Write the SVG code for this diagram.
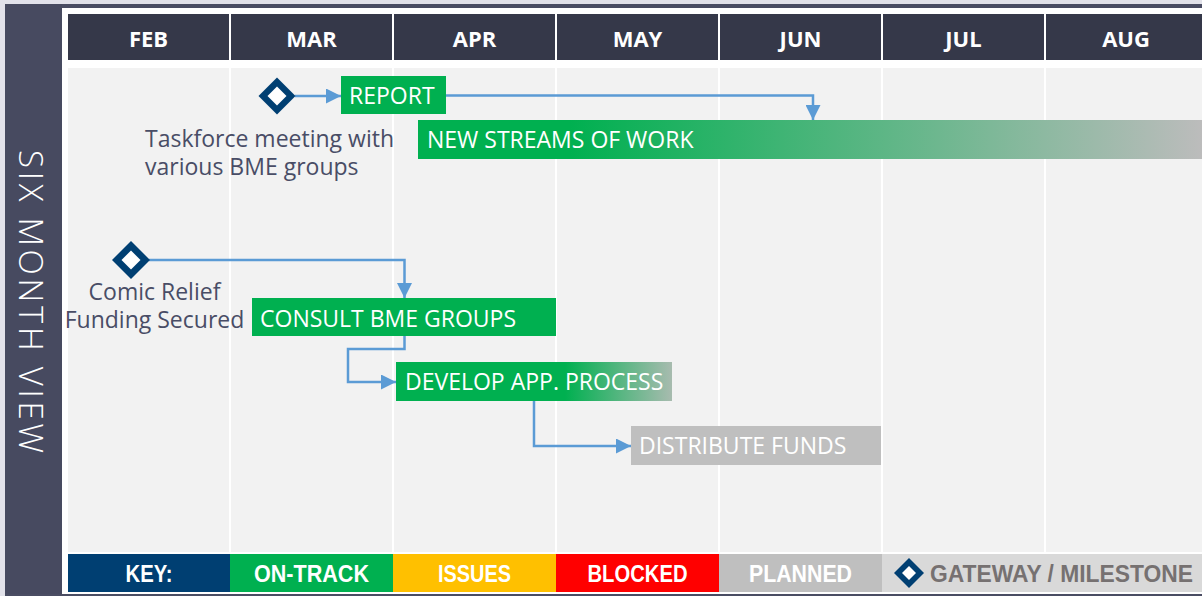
<svg xmlns="http://www.w3.org/2000/svg" width="1202" height="596" viewBox="0 0 1202 596">
<style>
.hdr{fill:#353849}
.hdrt{font-family:"Open Sans","Liberation Sans",sans-serif;font-weight:700;font-size:22px;fill:#ffffff;text-anchor:middle}
.col{fill:#f2f2f2}
.bar{font-family:"Open Sans","Liberation Sans",sans-serif;font-size:23px;fill:#ffffff}
.note{font-family:"Open Sans","Liberation Sans",sans-serif;font-size:23px;fill:#494d66}
.key{font-family:"Liberation Sans Narrow","Liberation Sans",sans-serif;font-weight:700;font-size:24px;fill:#ffffff;text-anchor:middle}
.conn{fill:none;stroke:#5b9bd5;stroke-width:2.5}
.ms-o{fill:#003f72}
.ms-i{fill:#ffffff}
</style>
<defs>
<marker id="arr" viewBox="0 0 10 10" refX="10" refY="5" markerWidth="6" markerHeight="6" markerUnits="strokeWidth" orient="auto">
<path d="M0,0 L10,5 L0,10 Z" fill="#5b9bd5"/>
</marker>
<linearGradient id="gNew" gradientUnits="userSpaceOnUse" x1="570" y1="0" x2="1202" y2="0">
<stop offset="0" stop-color="#00b050"/>
<stop offset="1" stop-color="#bcbcbc"/>
</linearGradient>
<linearGradient id="gDev" gradientUnits="userSpaceOnUse" x1="565" y1="0" x2="680" y2="0">
<stop offset="0" stop-color="#00b050"/>
<stop offset="1" stop-color="#b4bcb6"/>
</linearGradient>
</defs>

<!-- frame -->
<rect x="0" y="0" width="1202" height="596" fill="#ffffff"/>
<rect x="0" y="0" width="1202" height="4" fill="#e2e2ea"/>
<rect x="0" y="0" width="5" height="596" fill="#e2e2ea"/>
<rect x="5" y="4" width="1197" height="4" fill="#4a4d63"/>
<rect x="5" y="4" width="57" height="592" fill="#474a60"/>
<rect x="5" y="594" width="1197" height="2" fill="#4a4d63"/>
<text transform="translate(19,150) rotate(90)" font-family="'Open Sans','Liberation Sans',sans-serif" font-weight="300" font-size="33" letter-spacing="3.7" fill="#ffffff">SIX MONTH VIEW</text>

<!-- month columns -->
<g id="columns">
<rect class="col" x="68" y="68" width="161" height="484"/>
<rect class="col" x="231" y="68" width="161" height="484"/>
<rect class="col" x="394" y="68" width="161" height="484"/>
<rect class="col" x="557" y="68" width="161" height="484"/>
<rect class="col" x="720" y="68" width="161" height="484"/>
<rect class="col" x="883" y="68" width="161" height="484"/>
<rect class="col" x="1046" y="68" width="156" height="484"/>
</g>
<g id="headers">
<rect class="hdr" x="68" y="14" width="161" height="46"/><text class="hdrt" x="148.5" y="47">FEB</text>
<rect class="hdr" x="231" y="14" width="161" height="46"/><text class="hdrt" x="311.5" y="47">MAR</text>
<rect class="hdr" x="394" y="14" width="161" height="46"/><text class="hdrt" x="474.5" y="47">APR</text>
<rect class="hdr" x="557" y="14" width="161" height="46"/><text class="hdrt" x="637.5" y="47">MAY</text>
<rect class="hdr" x="720" y="14" width="161" height="46"/><text class="hdrt" x="800.5" y="47">JUN</text>
<rect class="hdr" x="883" y="14" width="161" height="46"/><text class="hdrt" x="963.5" y="47">JUL</text>
<rect class="hdr" x="1046" y="14" width="156" height="46"/><text class="hdrt" x="1126" y="47">AUG</text>
</g>

<!-- connectors -->
<g id="connectors">
<path class="conn" d="M295,96 H341" marker-end="url(#arr)"/>
<path class="conn" d="M446,95.5 H813 V120" marker-end="url(#arr)"/>
<path class="conn" d="M149,260 H404.5 V298" marker-end="url(#arr)"/>
<path class="conn" d="M404.5,336 V349 H348 V382 H396" marker-end="url(#arr)"/>
<path class="conn" d="M534,401 V446 H631" marker-end="url(#arr)"/>
</g>

<g id="ms-taskforce">
<polygon class="ms-o" points="277,77.5 295.5,96 277,114.5 258.5,96"/>
<polygon class="ms-i" points="277,86.5 286.5,96 277,105.5 267.5,96"/>
<text class="note" x="145" y="147">Taskforce meeting with</text>
<text class="note" x="145" y="175">various BME groups</text>
</g>

<g id="ms-funding">
<polygon class="ms-o" points="131,241 150,260 131,279 112,260"/>
<polygon class="ms-i" points="131,250.5 140.5,260 131,269.5 121.5,260"/>
<text class="note" x="154.5" y="300" text-anchor="middle">Comic Relief</text>
<text class="note" x="154.5" y="328" text-anchor="middle">Funding Secured</text>
</g>

<g id="report">
<rect x="341" y="76" width="105" height="38" fill="#00b050"/>
<text class="bar" x="349" y="104">REPORT</text>
</g>

<g id="new-streams">
<rect x="418" y="120" width="784" height="39" fill="url(#gNew)"/>
<text class="bar" x="427" y="148">NEW STREAMS OF WORK</text>
</g>

<g id="consult">
<rect x="252" y="298" width="304" height="38" fill="#00b050"/>
<text class="bar" x="260" y="327">CONSULT BME GROUPS</text>
</g>

<g id="develop">
<rect x="396" y="362" width="276" height="39" fill="url(#gDev)"/>
<text class="bar" x="405" y="390">DEVELOP APP. PROCESS</text>
</g>

<g id="distribute">
<rect x="631" y="426" width="250" height="39" fill="#bfbfbf"/>
<text class="bar" x="639" y="454">DISTRIBUTE FUNDS</text>
</g>

<!-- key -->
<g id="key">
<rect x="68" y="554" width="162" height="38" fill="#003f72"/><text class="key" x="149" y="582" textLength="47" lengthAdjust="spacingAndGlyphs">KEY:</text>
<rect x="230" y="554" width="163" height="38" fill="#00b050"/><text class="key" x="311.5" y="582" textLength="115" lengthAdjust="spacingAndGlyphs">ON-TRACK</text>
<rect x="393" y="554" width="163" height="38" fill="#ffc000"/><text class="key" x="474.5" y="582" textLength="73" lengthAdjust="spacingAndGlyphs">ISSUES</text>
<rect x="556" y="554" width="163" height="38" fill="#ff0000"/><text class="key" x="637.5" y="582" textLength="100" lengthAdjust="spacingAndGlyphs">BLOCKED</text>
<rect x="719" y="554" width="163" height="38" fill="#bfbfbf"/><text class="key" x="800.5" y="582" textLength="103" lengthAdjust="spacingAndGlyphs">PLANNED</text>
<rect x="882" y="554" width="320" height="38" fill="#d9d9d9"/>
<polygon class="ms-o" points="909,558 924,573 909,588 894,573"/>
<polygon class="ms-i" points="909,566 916,573 909,580 902,573"/>
<text class="key" x="1061.5" y="582" textLength="263" lengthAdjust="spacingAndGlyphs" style="fill:#767171">GATEWAY / MILESTONE</text>
</g>
</svg>
